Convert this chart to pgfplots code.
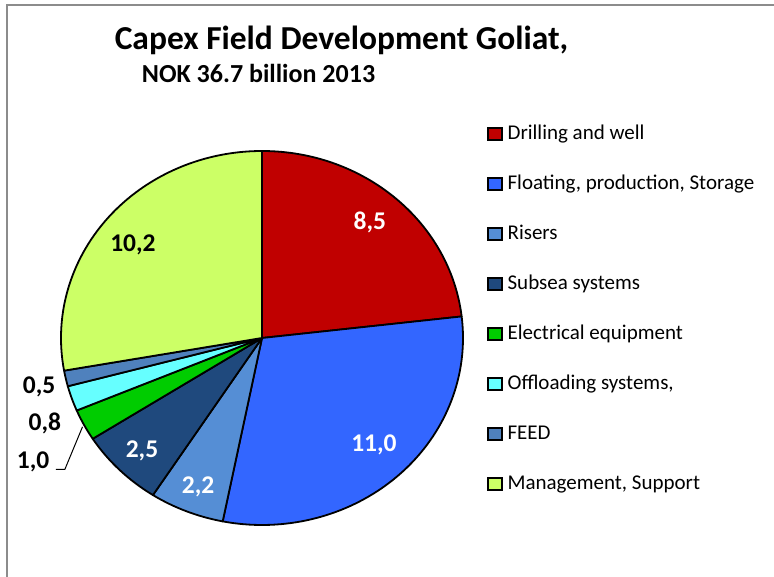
\documentclass[border=0pt]{standalone}
\usepackage{pgfplots}
\pgfplotsset{compat=1.18}
\usepackage{pgfplotstable}
\usepackage{fontspec}
\setmainfont{Carlito}

\definecolor{cDrill}{RGB}{192,0,0}
\definecolor{cFloat}{RGB}{51,102,255}
\definecolor{cRiser}{RGB}{85,142,213}
\definecolor{cSubsea}{RGB}{31,73,125}
\definecolor{cElec}{RGB}{0,204,0}
\definecolor{cOffl}{RGB}{102,255,255}
\definecolor{cFeed}{RGB}{79,129,189}
\definecolor{cMgmt}{RGB}{204,255,102}
\definecolor{frame}{RGB}{140,140,140}

% slice values (NOK bn), colour, label position in axis units, label colour
\pgfplotstableread{
value colour  lx     ly     txt
8.5   cDrill  0.537  0.620  white
11.0  cFloat  0.557  -0.572 white
2.2   cRiser  -0.318 -0.797 white
2.5   cSubsea -0.597 -0.604 white
1.0   cElec   -1.139 -0.663 black
0.8   cOffl   -1.080 -0.455 black
0.5   cFeed   -1.109 -0.262 black
10.2  cMgmt   -0.642 0.497  black
}\piedata

\begin{document}
\begin{tikzpicture}
\useasboundingbox (0,0) rectangle (774pt,576pt);
\draw[frame, line width=2pt] (7pt,-10pt) -- (7pt,571pt) -- (790pt,571pt);
\node[anchor=base, font=\fontsize{33.5}{40}\selectfont\bfseries] at (341.5pt,526pt) {Capex Field Development Goliat,};
\node[anchor=base, font=\fontsize{26}{31}\selectfont\bfseries] at (258.5pt,493pt) {NOK 36.7 billion 2013};

\begin{axis}[
  at={(262pt,238pt)}, anchor=center,
  x=201pt, y=187pt,
  xmin=-1, xmax=1, ymin=-1, ymax=1,
  hide axis, clip=false,
  /pgf/number format/assume math mode=true,
  legend image code/.code={\draw[#1, draw=black, line width=1.6pt] (0pt,-6pt) rectangle (14pt,6pt);},
  legend cell align=left,
  legend style={at={(1.0597,1.0695)}, anchor=north west, draw=none, fill=none,
    inner sep=0pt, outer sep=0pt,
    font=\fontsize{21}{25}\selectfont, row sep=32pt, column sep=5pt,
    nodes={inner sep=0pt, text height=14pt, text depth=4pt}},
]
\pgfplotsextra{%
  \xdef\total{0}%
  \foreach \i in {0,...,7}{%
    \pgfplotstablegetelem{\i}{value}\of\piedata
    \pgfmathparse{\total+\pgfplotsretval}\xdef\total{\pgfmathresult}}%
  \xdef\cum{90}%
  \foreach \i in {0,...,7}{%
    \pgfplotstablegetelem{\i}{value}\of\piedata \let\val\pgfplotsretval
    \pgfplotstablegetelem{\i}{colour}\of\piedata \let\slicecol\pgfplotsretval
    \pgfmathsetmacro\angA{\cum}%
    \pgfmathsetmacro\angB{\cum-360*\val/\total}%
    \fill[fill=\slicecol, draw=black, line width=1.8pt, line join=round]
      (axis cs:0,0) -- (axis cs:{cos(\angA)},{sin(\angA)})
      arc[start angle=\angA, end angle=\angB, x radius=201pt, y radius=187pt] -- cycle;
    \xdef\cum{\angB}%
  }%
  \foreach \i in {0,...,7}{%
    \pgfplotstablegetelem{\i}{value}\of\piedata \let\val\pgfplotsretval
    \pgfplotstablegetelem{\i}{lx}\of\piedata \let\lx\pgfplotsretval
    \pgfplotstablegetelem{\i}{ly}\of\piedata \let\ly\pgfplotsretval
    \pgfplotstablegetelem{\i}{txt}\of\piedata \let\txtcol\pgfplotsretval
    \node[text=\txtcol, font=\fontsize{25.5}{30}\selectfont\bfseries]
      at (axis cs:\lx,\ly) {\pgfmathprintnumber[fixed,fixed zerofill,precision=1,use comma]{\val}};
  }%
  \draw[line width=1pt] (axis cs:-1.026,-0.703) -- (axis cs:-0.981,-0.703) -- (axis cs:-0.893,-0.475);
}
\addlegendimage{fill=cDrill}\addlegendentry{Drilling and well}
\addlegendimage{fill=cFloat}\addlegendentry{Floating, production, Storage}
\addlegendimage{fill=cRiser}\addlegendentry{Risers}
\addlegendimage{fill=cSubsea}\addlegendentry{Subsea systems}
\addlegendimage{fill=cElec}\addlegendentry{Electrical equipment}
\addlegendimage{fill=cOffl}\addlegendentry{Offloading systems,}
\addlegendimage{fill=cFeed}\addlegendentry{FEED}
\addlegendimage{fill=cMgmt}\addlegendentry{Management, Support}
\end{axis}
\end{tikzpicture}
\end{document}
